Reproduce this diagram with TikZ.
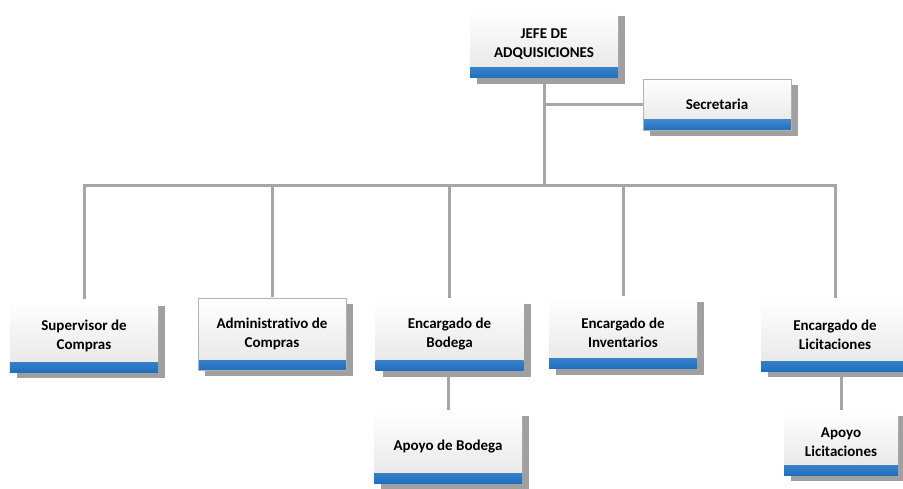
\documentclass[tikz,border=0pt]{standalone}
\usepackage{fontspec}
\setmainfont[Ligatures=NoCommon]{Carlito}
\usetikzlibrary{shadows,backgrounds}
\definecolor{lineagris}{HTML}{A6A6A6}
\definecolor{sombragris}{HTML}{A0A0A0}
\definecolor{azulclaro}{HTML}{D2E6F7}
\definecolor{azul}{HTML}{1F6FC0}
\begin{document}
\begin{tikzpicture}[x=1bp,y=-1bp,
  cargo/.style={rectangle,inner sep=0pt,minimum width=148bp,minimum height=72bp,
    align=center,font=\fontsize{15bp}{19bp}\selectfont\bfseries,
    top color=white,bottom color=black!10,
    drop shadow={shadow xshift=7bp,shadow yshift=-6bp,fill=sombragris,opacity=1},
    path picture={\shade[top color=azulclaro,bottom color=azul]
      (path picture bounding box.south west) rectangle
      ([yshift=10bp]path picture bounding box.south east);}},
  borde/.style={draw=black!30,line width=0.6bp},
  linea/.style={draw=lineagris,line width=3bp}]
  \useasboundingbox (0,0) rectangle (903,489);

%% top
  \node[cargo,minimum height=68bp] (jefe) at (544,44) {JEFE DE\\ADQUISICIONES};
  \node[cargo,borde,minimum height=51bp] (secretaria) at (717,104.5) {Secretaria};

%% second row
  \node[cargo] (supervisor) at (84,336) {Supervisor de\\Compras};
  \node[cargo,borde] (administrativo) at (272,334) {Administrativo de\\Compras};
  \node[cargo] (bodega) at (449.5,334.5) {Encargado de\\Bodega};
  \node[cargo] (inventarios) at (623,332.5) {Encargado de\\Inventarios};
  \node[cargo] (licitaciones) at (835,335) {Encargado de\\Licitaciones};

%% third row
  \node[cargo,minimum height=73bp] (apoyobodega) at (448,446.5) {Apoyo de Bodega};
  \node[cargo,minimum width=114bp,minimum height=65bp] (apoyolicit) at (841,442.5) {Apoyo\\Licitaciones};

%% lines
  \coordinate (bus) at (544,186);
  \begin{scope}[on background layer]
  \draw[linea] (jefe.south) -- (bus);
  \draw[linea] (jefe.south |- secretaria.west) -- (secretaria.west);
  \draw[linea] (supervisor.north) |- (bus);
  \draw[linea] (bus) -| (licitaciones.north);
  \draw[linea] (administrativo.north) -- (administrativo.north |- bus);
  \draw[linea] (bodega.north) -- (bodega.north |- bus);
  \draw[linea] (inventarios.north) -- (inventarios.north |- bus);
  \draw[linea] (apoyobodega.north |- bodega.south) -- (apoyobodega.north);
  \draw[linea] (apoyolicit.north |- licitaciones.south) -- (apoyolicit.north);
  \end{scope}
\end{tikzpicture}
\end{document}
